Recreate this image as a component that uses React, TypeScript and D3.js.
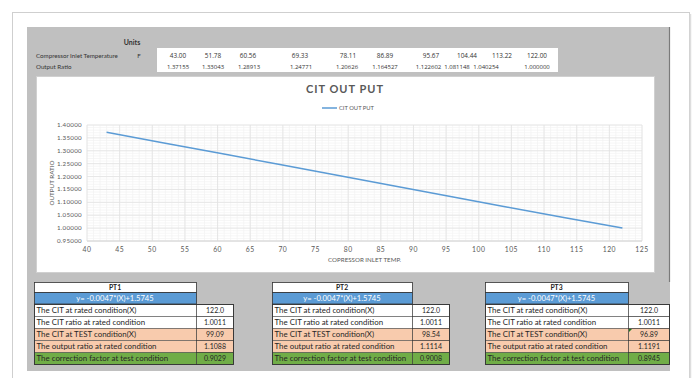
import React from "react";
import * as d3 from "d3";

// ---- data ----
const tempLabels = ["43.00", "51.78", "60.56", "69.33", "78.11", "86.89", "95.67", "104.44", "113.22", "122.00"];
const temps = [43.0, 51.78, 60.56, 69.33, 78.11, 86.89, 95.67, 104.44, 113.22, 122.0];
const ratioLabels = ["1.37155", "1.33043", "1.28913", "1.24771", "1.20626", "1.164527", "1.122602", "1.081148", "1.040254", "1.000000"];
const ratios = [1.37155, 1.33043, 1.28913, 1.24771, 1.20626, 1.164527, 1.122602, 1.081148, 1.040254, 1.0];
const xTicks = [40, 45, 50, 55, 60, 65, 70, 75, 80, 85, 90, 95, 100, 105, 110, 115, 120, 125];
const yTicks = [0.95, 1.0, 1.05, 1.1, 1.15, 1.2, 1.25, 1.3, 1.35, 1.4];
const seriesName = "CIT OUT PUT";
const chartTitle = "CIT OUT PUT";
const xTitle = "COPRESSOR INLET TEMP.";
const yTitle = "OUTPUT RATIO";
const ptNames = ["PT1", "PT2", "PT3"];
const equation = "y= -0.0047*(X)+1.5745";
const rowLabels = [
  "The  CIT at rated  condition(X)",
  "The CIT ratio at rated condition",
  "The  CIT at TEST condition(X)",
  "The output ratio at rated  condition",
  "The correction factor at test condition",
];
const ptValues = [
  ["122.0", "1.0011", "99.09", "1.1088", "0.9029"],
  ["122.0", "1.0011", "98.54", "1.1114", "0.9008"],
  ["122.0", "1.0011", "96.89", "1.1191", "0.8945"],
];

// ---- layout ----
const W = 696, H = 378;
const FONT = "Lato, 'Open Sans', 'Liberation Sans', sans-serif";
const NUMFONT = "'Open Sans', Lato, 'Liberation Sans', sans-serif";
const tempX = [178, 213, 248, 300, 348, 385, 431, 467, 502, 537];
const ratioX = [178, 213, 249, 301, 347, 385, 428.5, 457, 486, 537];
const tableX = [34, 272, 485];
const labelW = [162, 140, 143];
const valW = [37, 37, 41];
const rowFills = ["#ffffff", "#ffffff", "#F8CBAD", "#F8CBAD", "#70AD47"];

export default function App() {
  const x = d3.scaleLinear().domain([40, 125]).range([87, 642]);
  const y = d3.scaleLinear().domain([0.95, 1.4]).range([241, 125]);
  const line = d3
    .line<number>()
    .x((_, i) => x(temps[i]))
    .y((d) => y(d));
  const minorX = d3.range(40, 125.01, 1);
  const minorY = d3.range(0.95, 1.4001, 0.01);
  const plotCx = (x(40) + x(125)) / 2;
  const plotCy = (y(0.95) + y(1.4)) / 2;

  const titleY = 282, titleH = 10, blueH = 12, rowY0 = 304, rowH = 12;

  return (
    <svg width={W} height={H} style={{ position: "absolute", left: 0, top: 0 }} fontFamily={FONT}>
      <rect x={0} y={0} width={W} height={H} fill="#ffffff" />
      {/* outer card */}
      <rect x={12.5} y={12.5} width={677} height={380} fill="#ffffff" stroke="#cfcfcf" />
      <line x1={690.5} y1={14} x2={690.5} y2={H} stroke="#dedede" strokeWidth={1.5} />
      {/* gray panel */}
      <rect x={27} y={27} width={643} height={344} fill="#c0c0c0" />
      <line x1={669.5} y1={27} x2={669.5} y2={282} stroke="#7a7a7a" strokeWidth={1.2} />

      {/* header table */}
      <text x={132} y={45} fontSize={7} fontWeight="bold" fill="#333" textAnchor="middle">Units</text>
      <text x={36} y={57.5} fontSize={6.2} fill="#333">Compressor Inlet Temperature</text>
      <text x={36} y={68.5} fontSize={6.2} fill="#333">Output Ratio</text>
      <text x={139} y={57.5} fontSize={6.2} fill="#333" textAnchor="middle">F</text>
      <rect x={157} y={48} width={401} height={24} fill="#ffffff" />
      {tempLabels.map((t, i) => (
        <text key={"t" + i} x={tempX[i]} y={57.5} fontSize={6.4} fontFamily={NUMFONT} fill="#333" textAnchor="middle">{t}</text>
      ))}
      {ratioLabels.map((t, i) => (
        <text key={"r" + i} x={ratioX[i]} y={68.5} fontSize={6} fontFamily={NUMFONT} fill="#333" textAnchor="middle">{t}</text>
      ))}

      {/* chart area */}
      <rect x={36.5} y={76.5} width={618} height={196} fill="#ffffff" stroke="#d0d0d0" />
      <text x={345} y={93} fontSize={11} fontWeight="bold" fill="#595959" textAnchor="middle" letterSpacing={1}>{chartTitle}</text>
      <line x1={322} y1={108} x2={337} y2={108} stroke="#5B9BD5" strokeWidth={1.5} />
      <text x={339} y={110} fontSize={5.8} fill="#595959">{seriesName}</text>

      {/* grid */}
      {minorX.map((v, i) => (
        <line key={"mx" + i} x1={x(v)} x2={x(v)} y1={y(1.4)} y2={y(0.95)} stroke="#f2f2f2" strokeWidth={0.7} />
      ))}
      {minorY.map((v, i) => (
        <line key={"my" + i} x1={x(40)} x2={x(125)} y1={y(v)} y2={y(v)} stroke="#f2f2f2" strokeWidth={0.7} />
      ))}
      {xTicks.map((v) => (
        <line key={"gx" + v} x1={x(v)} x2={x(v)} y1={y(1.4)} y2={y(0.95)} stroke="#e2e2e2" strokeWidth={0.8} />
      ))}
      {yTicks.map((v) => (
        <line key={"gy" + v} x1={x(40)} x2={x(125)} y1={y(v)} y2={y(v)} stroke="#e2e2e2" strokeWidth={0.8} />
      ))}
      <line x1={x(40)} x2={x(125)} y1={y(0.95)} y2={y(0.95)} stroke="#d0d0d0" strokeWidth={0.8} />

      {/* ticks */}
      {xTicks.map((v) => (
        <text key={"xt" + v} x={x(v)} y={251.5} fontSize={6.8} fill="#595959" textAnchor="middle" letterSpacing={0.5}>{v}</text>
      ))}
      {yTicks.map((v) => (
        <text key={"yt" + v} x={82} y={y(v) + 2} fontSize={6.2} fill="#595959" textAnchor="end" letterSpacing={0.3}>{d3.format(".5f")(v)}</text>
      ))}
      <text x={plotCx} y={262} fontSize={6.2} fill="#595959" textAnchor="middle">{xTitle}</text>
      <text transform={`translate(54,${plotCy}) rotate(-90)`} fontSize={6.3} fill="#595959" textAnchor="middle">{yTitle}</text>

      {/* series */}
      <path d={line(ratios) || ""} fill="none" stroke="#5B9BD5" strokeWidth={1.5} />

      {/* PT tables */}
      {ptNames.map((name, k) => {
        const x0 = tableX[k];
        const lw = labelW[k];
        const vw = valW[k];
        return (
          <g key={name}>
            <rect x={x0 + 0.5} y={titleY + 0.5} width={lw} height={titleH} fill="#ffffff" stroke="#333" strokeWidth={0.8} />
            <text x={x0 + lw / 2} y={titleY + 8} fontSize={6.8} fontWeight="bold" fill="#222" textAnchor="middle">{name}</text>
            <rect x={x0 + 0.5} y={titleY + titleH + 0.5} width={lw} height={blueH - 0.5} fill="#5B9BD5" stroke="#333" strokeWidth={0.8} />
            <text x={x0 + lw / 2} y={titleY + titleH + 9} fontSize={7.6} fill="#ffffff" textAnchor="middle">{equation}</text>
            {rowLabels.map((lab, j) => {
              const ry = rowY0 + j * rowH;
              return (
                <g key={j}>
                  <rect x={x0 + 0.5} y={ry + 0.5} width={lw} height={rowH} fill={rowFills[j]} stroke="#555" strokeWidth={0.6} />
                  <rect x={x0 + lw + 0.5} y={ry + 0.5} width={vw} height={rowH} fill={rowFills[j]} stroke="#333" strokeWidth={0.6} />
                  <text x={x0 + 2.5} y={ry + 9.2} fontSize={7.9} fill="#262626">{lab}</text>
                  <text x={x0 + lw + vw / 2 + 0.5} y={ry + 9.2} fontSize={7} fill="#262626" textAnchor="middle">{ptValues[k][j]}</text>
                </g>
              );
            })}
            <rect x={x0 + 0.5} y={rowY0 + 0.5} width={lw + vw} height={rowH * 5} fill="none" stroke="#333" strokeWidth={0.9} />
            {k === 2 && (
              <path d={`M${x0 + lw + 1},${rowY0 + 2 * rowH + 1} l3,0 l-3,3 Z`} fill="#1e7a1e" />
            )}
          </g>
        );
      })}
    </svg>
  );
}
